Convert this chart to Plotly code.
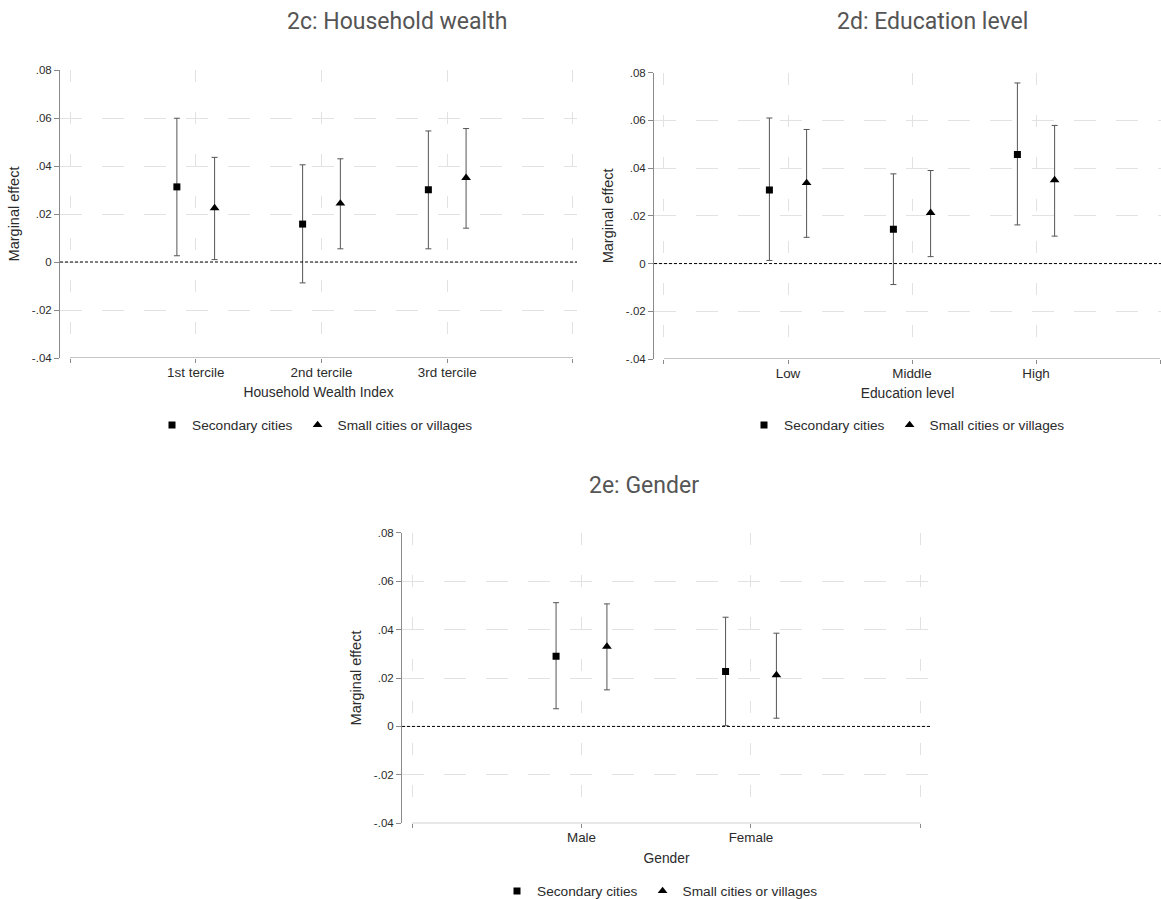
import plotly.graph_objects as go

# ---- data: marginal effects with 95% confidence bounds ----
wealth_cats = ["1st tercile", "2nd tercile", "3rd tercile"]
wealth_sec_est = [0.0313, 0.0158, 0.0301]
wealth_sec_lo = [0.0026, -0.0087, 0.0055]
wealth_sec_hi = [0.0599, 0.0405, 0.0546]
wealth_small_est = [0.0225, 0.0244, 0.0351]
wealth_small_lo = [0.0010, 0.0055, 0.0141]
wealth_small_hi = [0.0436, 0.0430, 0.0556]

educ_cats = ["Low", "Middle", "High"]
educ_sec_est = [0.0308, 0.0144, 0.0457]
educ_sec_lo = [0.0013, -0.0088, 0.0162]
educ_sec_hi = [0.0610, 0.0376, 0.0757]
educ_small_est = [0.0338, 0.0213, 0.0350]
educ_small_lo = [0.0110, 0.0029, 0.0115]
educ_small_hi = [0.0562, 0.0390, 0.0579]

gender_cats = ["Male", "Female"]
gender_sec_est = [0.0290, 0.0227]
gender_sec_lo = [0.0073, 0.0003]
gender_sec_hi = [0.0511, 0.0451]
gender_small_est = [0.0330, 0.0212]
gender_small_lo = [0.0151, 0.0034]
gender_small_hi = [0.0506, 0.0385]

y_ticks = [-0.04, -0.02, 0, 0.02, 0.04, 0.06, 0.08]
y_ticktext = ["-.04", "-.02", "0", ".02", ".04", ".06", ".08"]

series_names = ["Secondary cities", "Small cities or villages"]

W, H = 1161, 899
FONT = "Liberation Sans, Arial, sans-serif"
TXT = "#2b2b2b"
AXC = "#8a8a8a"
GRIDC = "#e2e2e2"
OFFSET = 0.15


def px_x(p):
    return p / W


def px_y(p):
    return 1 - p / H


panels = [
    dict(cats=wealth_cats, title="2c: Household wealth", xtitle="Household Wealth Index",
         sec=(wealth_sec_est, wealth_sec_lo, wealth_sec_hi),
         small=(wealth_small_est, wealth_small_lo, wealth_small_hi),
         dom_x=(60, 577), dom_y=(70, 358), xr=(-0.0795, 4.032),
         title_pos=(397, 22), legend_pos=(315, 425)),
    dict(cats=educ_cats, title="2d: Education level", xtitle="Education level",
         sec=(educ_sec_est, educ_sec_lo, educ_sec_hi),
         small=(educ_small_est, educ_small_lo, educ_small_hi),
         dom_x=(654, 1161), dom_y=(72.7, 359), xr=(-0.0806, 4.008),
         title_pos=(932, 22), legend_pos=(907, 425)),
    dict(cats=gender_cats, title="2e: Gender", xtitle="Gender",
         sec=(gender_sec_est, gender_sec_lo, gender_sec_hi),
         small=(gender_small_est, gender_small_lo, gender_small_hi),
         dom_x=(402, 931), dom_y=(532.7, 823.3), xr=(-0.059, 3.062),
         title_pos=(644, 485), legend_pos=(660, 891)),
]

fig = go.Figure()
annotations = []
shapes = []
legend_keys = ["legend", "legend2", "legend3"]

for i, p in enumerate(panels):
    n = i + 1
    xa = "x" if n == 1 else f"x{n}"
    ya = "y" if n == 1 else f"y{n}"
    ncat = len(p["cats"])
    centers = list(range(1, ncat + 1))

    for k, (key, symbol, size, shift) in enumerate(
        [("sec", "square", 7, -OFFSET), ("small", "triangle-up", 8.5, OFFSET)]
    ):
        est, lo, hi = p[key]
        fig.add_trace(go.Scatter(
            x=[c + shift for c in centers], y=est,
            mode="markers", name=series_names[k],
            marker=dict(symbol=symbol, size=size, color="black"),
            error_y=dict(type="data", symmetric=False,
                         array=[h - e for h, e in zip(hi, est)],
                         arrayminus=[e - l for e, l in zip(est, lo)],
                         color="#555555", thickness=1, width=3),
            xaxis=xa, yaxis=ya, legend=legend_keys[i], showlegend=True,
            hoverinfo="skip",
        ))

    xkey = "xaxis" if n == 1 else f"xaxis{n}"
    ykey = "yaxis" if n == 1 else f"yaxis{n}"
    x0, x1 = p["dom_x"]
    t0, t1 = p["dom_y"]
    fig.layout[xkey] = dict(
        domain=[px_x(x0), px_x(x1)], range=list(p["xr"]), anchor=ya,
        tickvals=list(range(0, ncat + 2)),
        ticktext=[""] + p["cats"] + [""],
        ticks="outside", ticklen=4, tickcolor=AXC, tickwidth=1,
        ticklabelstandoff=-2,
        showline=False, zeroline=False,
        showgrid=True, gridcolor=GRIDC, gridwidth=1, griddash="12px,30px",
        tickfont=dict(family=FONT, size=13.4, color=TXT),
        title=dict(text=p["xtitle"], font=dict(family=FONT, size=13.8, color=TXT), standoff=8),
        fixedrange=True,
    )
    fig.layout[ykey] = dict(
        domain=[px_y(t1), px_y(t0)], range=[-0.04, 0.08], anchor=xa,
        tickvals=y_ticks, ticktext=y_ticktext,
        ticks="outside", ticklen=5, tickcolor=AXC, tickwidth=1,
        showline=True, linecolor=AXC, linewidth=1, mirror=False,
        zeroline=False,
        showgrid=True, gridcolor=GRIDC, gridwidth=1, griddash="22px,20px",
        tickfont=dict(family=FONT, size=11.5, color=TXT),
        title=dict(text="Marginal effect", font=dict(family=FONT, size=14.5, color=TXT), standoff=8),
        fixedrange=True,
    )

    # x axis baseline between the outer categories' bounds
    shapes.append(dict(type="line", xref=xa, yref=ya, x0=0, x1=ncat + 1,
                       y0=-0.04, y1=-0.04, line=dict(color=AXC, width=1)))
    # reference line at zero
    shapes.append(dict(type="line", xref=f"{xa} domain", yref=ya, x0=0, x1=1,
                       y0=0, y1=0, line=dict(color="black", width=1, dash="3px,2px")))

    annotations.append(dict(
        text=p["title"], xref="paper", yref="paper",
        x=px_x(p["title_pos"][0]), y=px_y(p["title_pos"][1]),
        xanchor="center", yanchor="middle", showarrow=False,
        font=dict(family="Roboto, sans-serif", size=23, color="#555555"),
    ))

    lx, ly = p["legend_pos"]
    fig.layout[legend_keys[i]] = dict(
        orientation="h", x=px_x(lx), y=px_y(ly), xanchor="center", yanchor="middle",
        font=dict(family=FONT, size=13.7, color=TXT), bgcolor="rgba(0,0,0,0)",
        itemwidth=30, tracegroupgap=0,
    )

fig.update_layout(
    width=W, height=H, margin=dict(l=0, r=0, t=0, b=0, autoexpand=False),
    paper_bgcolor="white", plot_bgcolor="white",
    annotations=annotations, shapes=shapes,
    font=dict(family=FONT, color=TXT),
)

fig.write_html("out.html")
